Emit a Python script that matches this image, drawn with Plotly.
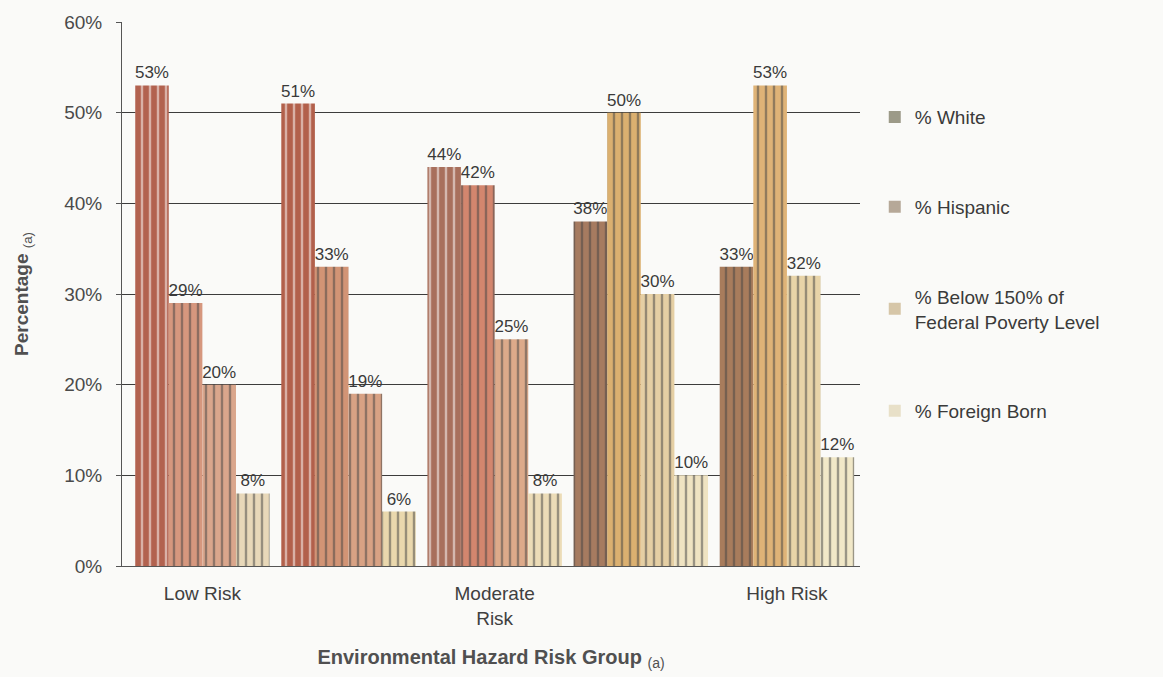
import plotly.graph_objects as go

# Risk groups along the x axis (only every other group is labelled)
tick_labels = ["Low Risk", "", "Moderate<br>Risk", "", "High Risk"]
positions = [0, 1, 2, 3, 4]

series_names = [
    "% White",
    "% Hispanic",
    "% Below 150% of<br>Federal Poverty Level",
    "% Foreign Born",
]

pct_white = [53, 51, 44, 38, 33]
pct_hispanic = [29, 33, 42, 50, 53]
pct_poverty = [20, 19, 25, 30, 32]
pct_foreign = [8, 6, 8, 10, 12]

# Fill colours per bar: warm reds on the low-risk side shading to golden tans
white_colors = ["#B2624F", "#B2604B", "#A86F5C", "#A67B60", "#A87C5C"]
hispanic_colors = ["#D6977E", "#D29475", "#D3866E", "#DBB070", "#DFB377"]
poverty_colors = ["#DAA68C", "#D8A284", "#DDAA8A", "#E5CFA4", "#E8D4A8"]
foreign_colors = ["#E8D8B9", "#EAD8AD", "#ECDCB7", "#EFE3C2", "#F1E8C8"]

legend_colors = ["#9C9A88", "#B6A898", "#D6C6A8", "#E8E0C8"]

values = [pct_white, pct_hispanic, pct_poverty, pct_foreign]
colors = [white_colors, hispanic_colors, poverty_colors, foreign_colors]


def darker(hex_color, f=0.93):
    r, g, b = (int(hex_color[i:i + 2], 16) for i in (1, 3, 5))
    return "#%02X%02X%02X" % (int(r * f), int(g * f), int(b * f))


fig = go.Figure()
for name, vals, cols, lcol in zip(series_names, values, colors, legend_colors):
    fig.add_trace(go.Bar(
        x=positions,
        y=vals,
        name=name,
        legendgroup=name,
        offsetgroup=name,
        showlegend=False,
        marker=dict(
            color=cols,
            line=dict(width=0),
            pattern=dict(shape="|", size=8, solidity=0.3,
                         fgcolor=[darker(c) for c in cols], fillmode="overlay"),
        ),
        text=[f"{v}%" for v in vals],
        textposition="outside",
        constraintext="none",
        cliponaxis=False,
        textfont=dict(family="Liberation Sans, Arial, sans-serif", size=17, color="#3A3A3A"),
    ))
    # legend swatch sharing the series' slot
    fig.add_trace(go.Bar(
        x=[None], y=[None], name=name, legendgroup=name, offsetgroup=name,
        marker=dict(color=lcol, line=dict(width=0)),
        showlegend=True,
    ))

fig.update_layout(
    width=1163, height=677,
    margin=dict(l=122, r=303, t=21, b=109),
    paper_bgcolor="#FAFAF8",
    plot_bgcolor="rgba(0,0,0,0)",
    barmode="group",
    bargap=0.08,
    bargroupgap=0,
    font=dict(family="Liberation Sans, Arial, sans-serif", size=17, color="#444444"),
    legend=dict(
        x=1.02, xanchor="left", y=0.86, yanchor="top",
        font=dict(size=19, color="#3A3A3A"),
        tracegroupgap=62,
        traceorder="grouped",
        bgcolor="rgba(0,0,0,0)",
    ),
)

fig.update_yaxes(
    range=[0, 60],
    tickvals=[0, 10, 20, 30, 40, 50, 60],
    ticktext=["0%", "10%", "20%", "30%", "40%", "50%", "60%"],
    showgrid=True, gridcolor="#3C3C3C", gridwidth=1,
    showline=True, linecolor="#555555", linewidth=1,
    ticks="outside", ticklen=5, tickcolor="#555555",
    ticklabelstandoff=10,
    tickfont=dict(size=19, color="#4A4A4A"),
    zeroline=False,
    title=dict(text="<b>Percentage</b> <sub>(a)</sub>", standoff=30,
               font=dict(size=19, color="#505050")),
)

# only the labelled groups get a tick label
labelled = [(p, t) for p, t in zip(positions, tick_labels) if t]
fig.update_xaxes(
    tickvals=[p for p, _ in labelled],
    ticktext=[t for _, t in labelled],
    range=[-0.55, 4.5],
    showline=True, linecolor="#555555", linewidth=1,
    ticks="", showgrid=False,
    ticklabelstandoff=10,
    tickfont=dict(size=19, color="#404040"),
    title=dict(text="<b>Environmental Hazard Risk Group</b> <sub>(a)</sub>", standoff=22,
               font=dict(size=20, color="#505050")),
)

fig.write_html("out.html")
